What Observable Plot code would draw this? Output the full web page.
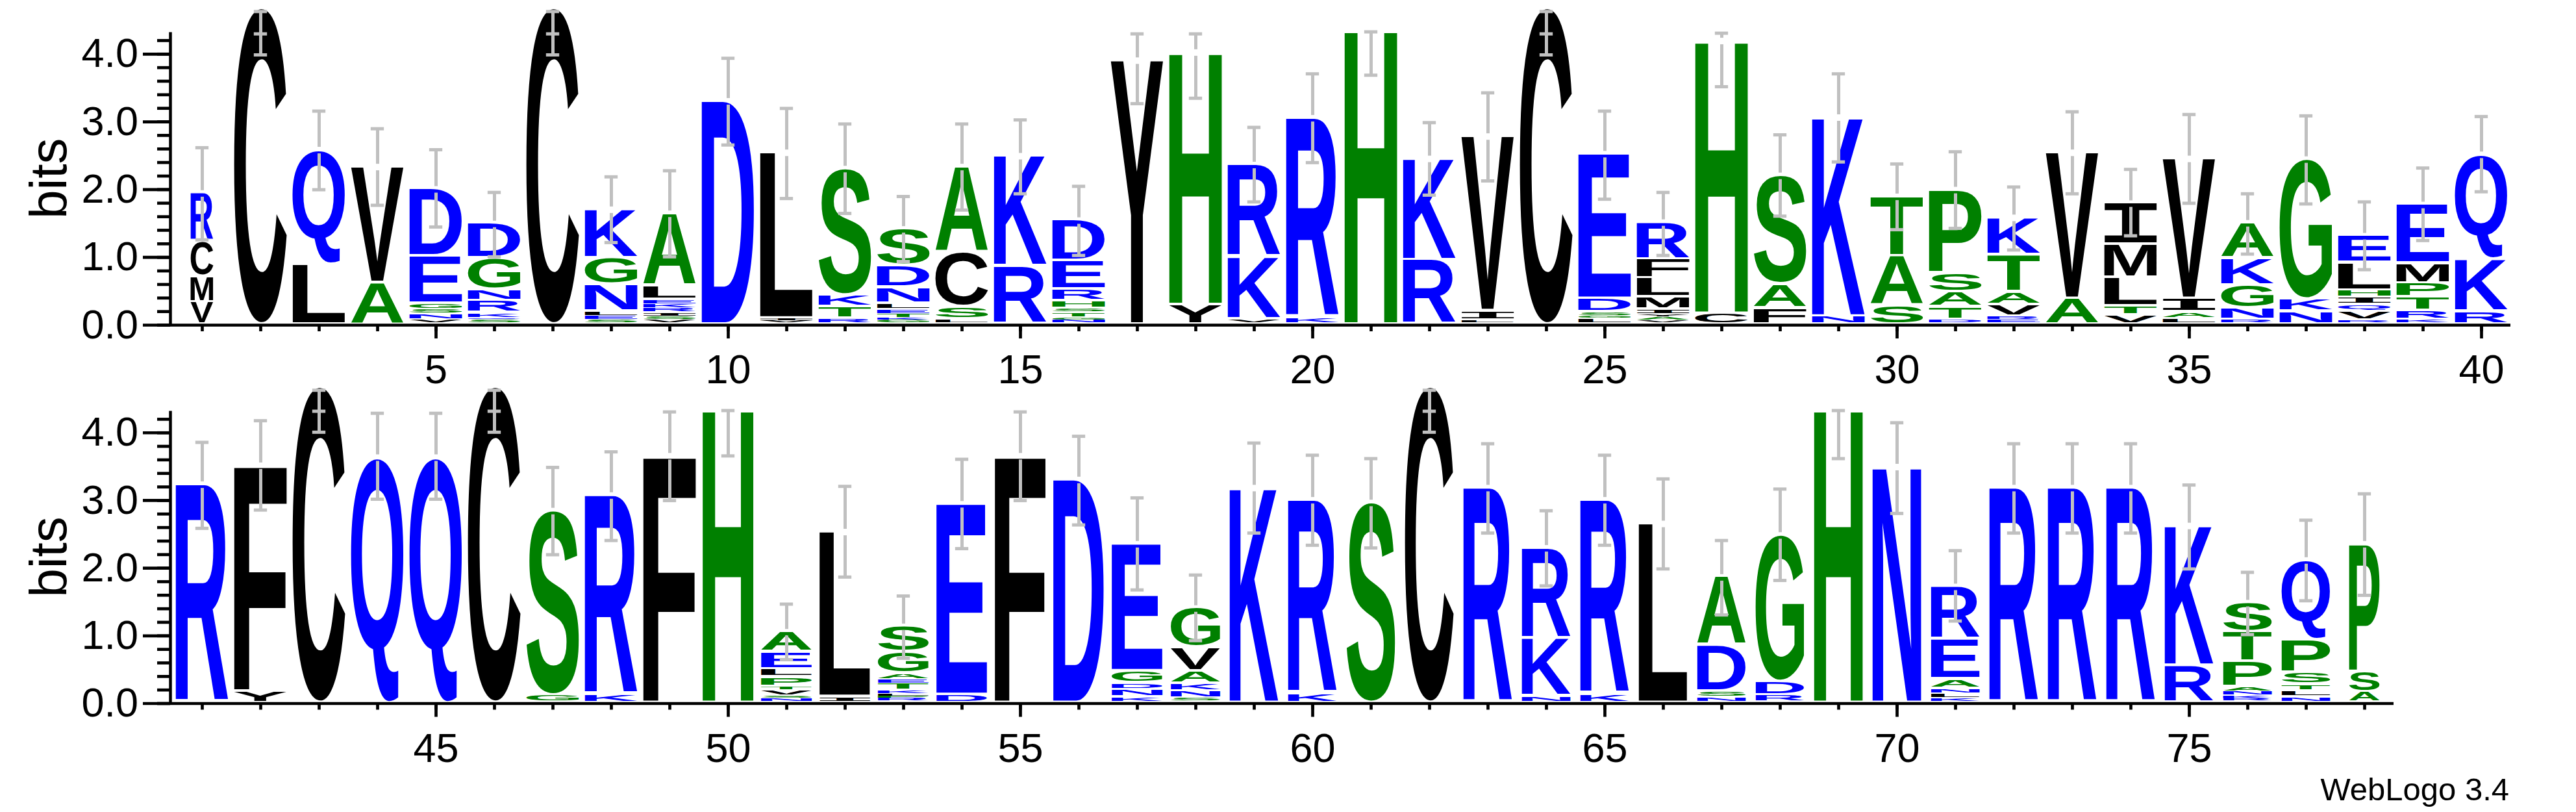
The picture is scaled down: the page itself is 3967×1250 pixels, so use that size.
<!DOCTYPE html>
<html><head><meta charset="utf-8">
<script src="https://cdn.jsdelivr.net/npm/d3@7"></script>
<script src="https://cdn.jsdelivr.net/npm/@observablehq/plot@0.6"></script>
<style>html,body{margin:0;padding:0;background:#fff}svg{display:block}</style>
</head><body><div id="chart"></div>
<script>
// ---------------- data ----------------
const positions = [1,2,3,4,5,6,7,8,9,10,11,12,13,14,15,16,17,18,19,20,21,22,23,24,25,26,27,28,29,30,31,32,33,34,35,36,37,38,39,40,
  41,42,43,44,45,46,47,48,49,50,51,52,53,54,55,56,57,58,59,60,61,62,63,64,65,66,67,68,69,70,71,72,73,74,75,76,77,78];
// letters of each stack, bottom to top
const stackLetters = ["VMCR","C","LQ","AV","VNSGED","SQKRNGD","C","SELNGK","VSIRKELA","D",
  "VIL","RTKS","GKTELNDS","LSCA","RK","NGTSHRED","Y","YH","VKR","KR",
  "H","RK","LIV","C","LGSDE","VAYIMLFR","CH","FAS","NK","SAT",
  "DTASP","ERVATK","AV","VTLMI","LAIV","RNGKA","NKG","RVQIHLE","KRTPME","RKQ",
  "R","YF","C","Q","Q","C","GS","KR","F","H",
  "NSVTPLEA","IL","RPLKTEAGS","DE","F","D","KNDGE","SNKAVG","K","KR",
  "S","C","R","NKR","KR","L","NSDA","RDG","H","N",
  "KLNAER","R","R","R","RK","RKNAPTS","NLTSPQ","ASP"];
// letter heights in bits, same order
const stackHeights = [[.29,.37,.52,.72],[4.63],[.85,1.69],[.58,1.71],[.03,.09,.07,.08,.70,.99],[.03,.03,.07,.18,.16,.47,.51],[4.63],[.03,.06,.06,.40,.39,.72],[.03,.05,.06,.06,.06,.07,.20,1.07],[3.26],
  [.02,.03,2.45],[.05,.17,.17,1.87],[.03,.03,.06,.06,.09,.24,.32,.54],[.04,.18,.81,1.26],[.82,1.63],[.03,.04,.07,.06,.11,.17,.42,.60],[3.86],[.25,3.73],[.04,.92,1.36],[.06,2.95],
  [4.31],[.91,1.50],[.02,.14,2.58],[4.63],[.05,.04,.05,.20,2.14],[.02,.05,.04,.07,.18,.28,.28,.55],[.12,4.03],[.20,.35,1.61],[.08,2.94],[.24,.73,.88],
  [.03,.19,.22,.28,1.23],[.03,.05,.17,.19,.55,.55],[.34,2.16],[.10,.13,.42,.49,.61],[.05,.09,.20,2.07],[.03,.17,.34,.40,.52],[.15,.18,2.07],[.02,.14,.09,.11,.10,.41,.40],[.03,.13,.20,.21,.29,.87],[.15,.77,1.55],
  [3.19],[.13,3.34],[4.63],[3.59],[3.59],[4.63],[.07,2.73],[.08,2.95],[3.61],[4.30],
  [.03,.03,.09,.05,.14,.12,.25,.30],[.05,2.44],[.03,.03,.04,.05,.10,.06,.08,.32,.38],[.08,2.82],[3.61],[3.26],[.05,.11,.09,.18,1.88],[.03,.11,.10,.19,.35,.58],[3.14],[.10,2.86],
  [2.92],[4.63],[3.14],[.06,.85,1.34],[.09,2.87],[2.61],[.05,.08,.68,1.01],[.07,.20,2.17],[4.30],[3.45],
  [.03,.07,.07,.14,.59,.78],[3.14],[3.14],[3.14],[.51,2.07],[.02,.05,.06,.07,.37,.44,.43],[.05,.09,.09,.18,.48,1.18],[.12,.30,1.89]];
// relative stack width (fraction of sequences present)
const stackWidth = [.43,1,1,1,1,1,1,1,1,1, 1,1,1,1,1,1,1,1,1,1, 1,1,1,1,1,1,1,1,1,1, 1,1,1,1,1,1,1,1,1,1,
  1,1,1,1,1,1,1,1,1,.965, .965,.965,.965,.965,.965,.965,.965,.94,.925,.925, .925,.925,.925,.925,.925,.925,.925,.925,.925,.925,
  .925,.925,.925,.925,.925,.925,.925,.58];
// error bars (bits)
const errLo = [1.22,3.95,1.96,1.73,1.41,.97,3.95,1.18,.97,2.62, 1.83,1.61,.90,1.66,1.90,.99,3.23,3.31,1.78,2.36,
  3.65,1.88,2.09,3.95,1.82,.99,3.48,1.57,2.37,1.37, 1.39,1.07,1.90,1.28,1.76,1.01,1.75,.78,1.21,1.93,
  2.55,2.82,3.97,2.98,2.98,3.97,2.16,2.37,2.96,3.62, .61,1.83,.63,2.25,2.96,2.60,1.64,.89,2.48,2.30,
  2.26,3.97,2.48,1.70,2.30,1.95,1.27,1.78,3.58,2.77, 1.18,2.48,2.48,2.48,1.95,.98,1.48,1.56];
const errHi = [2.58,4.59,3.12,2.86,2.55,1.92,4.59,2.15,2.24,3.90, 3.16,2.93,1.86,2.93,2.99,2.01,4.26,4.26,2.88,3.67,
  4.29,2.95,3.39,4.59,3.12,1.92,4.27,2.77,3.67,2.34, 2.52,2.00,3.11,2.26,3.07,1.90,3.05,1.78,2.28,3.04,
  3.82,4.14,4.59,4.25,4.25,4.59,3.45,3.68,4.27,4.29, 1.43,3.17,1.55,3.57,4.27,3.91,3.00,1.86,3.81,3.63,
  3.58,4.59,3.80,2.81,3.63,3.28,2.37,3.13,4.29,4.11, 2.22,3.80,3.80,3.80,3.19,1.90,2.67,3.06];
const errMid = positions.map(() => null);
[[2,4.26],[7,4.26],[24,4.26],[43,4.28],[46,4.28],[62,4.28]].forEach(([p,v]) => errMid[p-1] = v);

const yTicks = [0,1,2,3,4];
const yMinorTicks = [0,0.2,0.4,0.6,0.8,1,1.2,1.4,1.6,1.8,2,2.2,2.4,2.6,2.8,3,3.2,3.4,3.6,3.8,4,4.2];
const xTicksTop = [5,10,15,20,25,30,35,40];
const xTicksBottom = [45,50,55,60,65,70,75];

// ---------------- styling ----------------
const BLUE = "#0000ff", GREEN = "#008000", BLACK = "#000000", GREY = "#c0c0c0";
const colorOf = ch => "KRDEQN".includes(ch) ? BLUE : "HAGSTP".includes(ch) ? GREEN : BLACK;
const famOf = ch => ch === "I" ? "DejaVu Sans Mono" : "Liberation Sans";
const BASE = 4, GAP = 4, FS = 200;

const ctx = document.createElement("canvas").getContext("2d");
const metricCache = {};
function metric(ch) {
  if (!metricCache[ch]) {
    ctx.font = `bold ${FS}px "${famOf(ch)}"`;
    ctx.textAlign = "start";
    ctx.textBaseline = "alphabetic";
    const m = ctx.measureText(ch);
    metricCache[ch] = {l: m.actualBoundingBoxLeft, r: m.actualBoundingBoxRight, a: m.actualBoundingBoxAscent, d: m.actualBoundingBoxDescent};
  }
  return metricCache[ch];
}

const letterRows = [];
const tops = stackHeights.map(h => d3.sum(h));
positions.forEach((p, i) => {
  let y0 = 0;
  [...stackLetters[i]].forEach((ch, j) => {
    const h = stackHeights[i][j];
    letterRows.push({pos: p, ch, y0, y1: y0 + h, j, w: stackWidth[i]});
    y0 += h;
  });
});

function logoMark(rows) {
  return (index, scales) => {
    const x = scales.x, y = scales.y;
    const g = d3.create("svg:g").attr("text-anchor", "start");
    for (const r of rows) {
      const xa = x(r.pos - 0.45 * r.w), xb = x(r.pos + 0.45 * r.w);
      const yt = y(r.y1) - BASE;
      let yb = y(r.y0) - BASE;
      if (r.j > 0) yb -= Math.min(GAP, 0.3 * (yb - yt));
      if (yb - yt < 0.4) continue;
      const m = metric(r.ch);
      const sx = (xb - xa) / (m.l + m.r), sy = (yb - yt) / (m.a + m.d);
      g.append("text")
        .attr("text-anchor", "start")
        .attr("font-family", famOf(r.ch)).attr("font-weight", "bold").attr("font-size", FS)
        .attr("fill", colorOf(r.ch))
        .attr("transform", `translate(${xa + m.l * sx},${yt + m.a * sy}) scale(${sx},${sy})`)
        .text(r.ch);
    }
    return g.node();
  };
}

function errorMarks(idx) {
  const segs = [], caps = [];
  const G = 0.048;
  for (const i of idx) {
    const p = positions[i], lo = errLo[i], hi = errHi[i], t = tops[i];
    if (t > lo && t < hi) {
      segs.push({pos: p, y1: lo, y2: t - G});
      segs.push({pos: p, y1: t + G, y2: hi});
    } else segs.push({pos: p, y1: lo, y2: hi});
    caps.push({pos: p, y: lo}, {pos: p, y: hi});
    if (errMid[i] != null) caps.push({pos: p, y: errMid[i]});
  }
  return [
    Plot.ruleX(segs, {x: "pos", y1: "y1", y2: "y2", stroke: GREY, strokeWidth: 5, dy: -BASE}),
    Plot.ruleY(caps, {y: "y", x1: d => d.pos - 0.113, x2: d => d.pos + 0.113, stroke: GREY, strokeWidth: 5, dy: -BASE})
  ];
}

function labelMark(extra) {
  return (index, scales, values, dims) => {
    const g = d3.create("svg:g").attr("font-family", "Liberation Sans").attr("fill", "black");
    g.append("text")
      .attr("transform", `translate(102,${(dims.marginTop + dims.height - dims.marginBottom) / 2}) rotate(-90)`)
      .attr("text-anchor", "middle").attr("font-size", 80).text("bits");
    if (extra) g.append("text").attr("x", dims.width - 103).attr("y", dims.height - 18)
      .attr("text-anchor", "end").attr("font-size", 49).text(extra);
    return g.node();
  };
}

function panel(first, last, xTicks, opts) {
  const idx = positions.map((p, i) => i).filter(i => positions[i] >= first && positions[i] <= last);
  const posList = idx.map(i => positions[i]);
  const rows = letterRows.filter(r => r.pos >= first && r.pos <= last);
  return Plot.plot({
    width: 3967, height: opts.height,
    marginLeft: 262, marginRight: opts.mr, marginTop: opts.mt, marginBottom: opts.mb,
    style: {fontFamily: "Liberation Sans", background: "white", overflow: "visible"},
    x: {domain: [first - 0.5, last + 0.5], insetLeft: 4, insetRight: 0},
    y: {domain: [0, 4.32]},
    marks: [
      Plot.axisY({ticks: yMinorTicks, tickSize: 20, tickFormat: () => "", strokeWidth: 4.7, label: null}),
      Plot.axisY({ticks: yTicks, tickSize: 42, tickPadding: 7.5, tickFormat: d3.format(".1f"), fontSize: 63, strokeWidth: 4.7, label: null}),
      Plot.axisX({ticks: posList, tickSize: 10, tickFormat: () => "", strokeWidth: 4.7, label: null}),
      Plot.axisX({ticks: xTicks, tickSize: 21, tickPadding: 24, tickFormat: d3.format("d"), fontSize: 63, strokeWidth: 4.7, label: null}),
      Plot.ruleX([first - 0.5], {y1: 0, y2: 4.32, dx: -4, strokeWidth: 4.5}),
      Plot.ruleY([0], {strokeWidth: 4.5}),
      logoMark(rows),
      ...errorMarks(idx),
      labelMark(opts.extra)
    ]
  });
}

const chart = document.getElementById("chart");
chart.append(panel(1, 40, xTicksTop, {height: 590, mr: 101, mt: 49.4, mb: 90}));
chart.append(panel(41, 78, xTicksBottom, {height: 660, mr: 281, mt: 42.4, mb: 167.5, extra: "WebLogo 3.4"}));
</script></body></html>
